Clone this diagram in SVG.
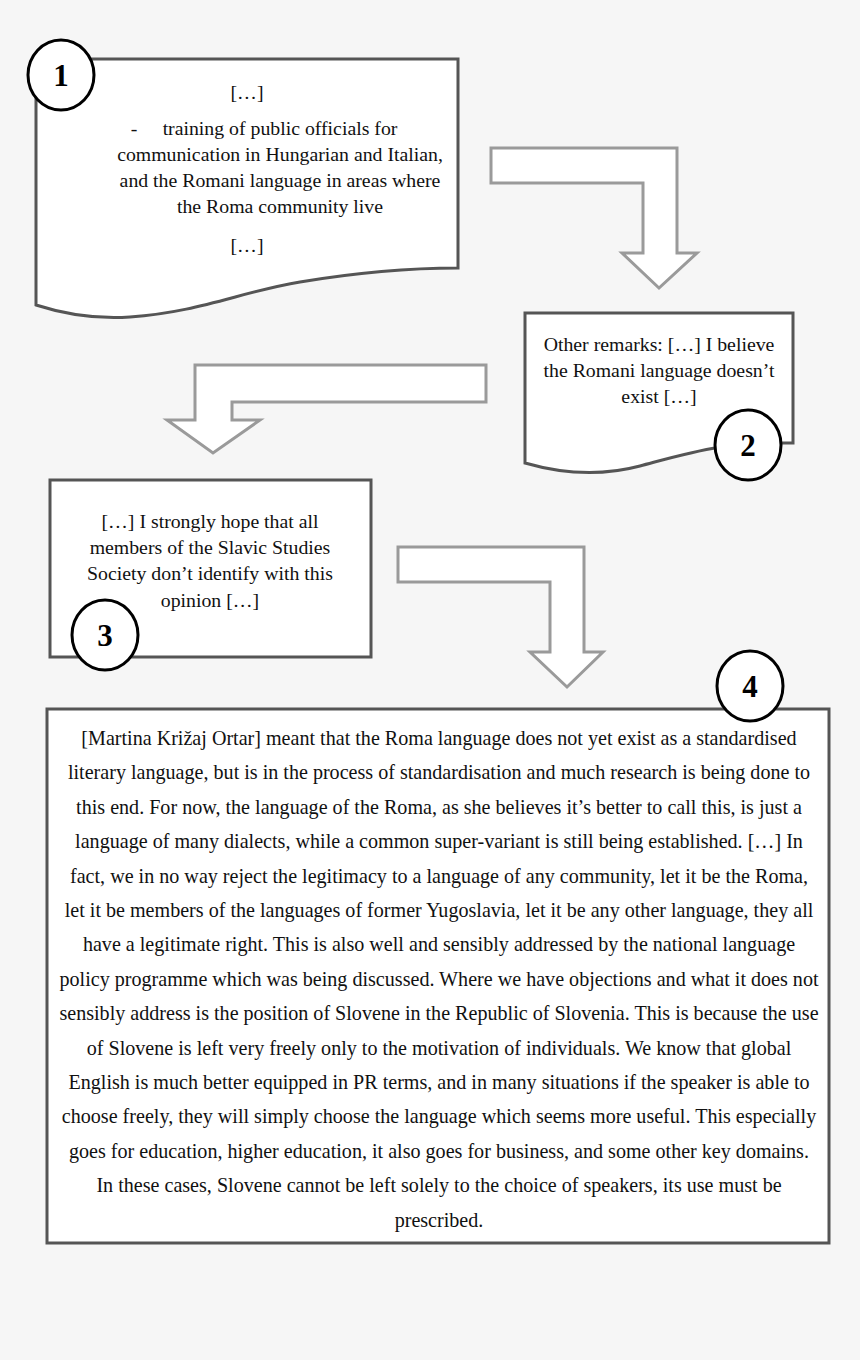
<svg xmlns="http://www.w3.org/2000/svg" width="860" height="1360" viewBox="0 0 860 1360">
<style>
.bg{fill:#f6f6f6}
.box{fill:#ffffff;stroke:#555555;stroke-width:3;stroke-linejoin:miter}
.arrow{fill:#ffffff;stroke:#9a9a9a;stroke-width:3;stroke-linejoin:miter}
.badge{fill:#ffffff;stroke:#000000;stroke-width:3}
.num{font-family:"Liberation Serif","Times New Roman",serif;font-weight:bold;font-size:31px;fill:#000;text-anchor:middle}
.t{font-family:"Liberation Serif","Times New Roman",serif;font-size:19.8px;fill:#111;text-anchor:middle}
.tb{font-family:"Liberation Serif","Times New Roman",serif;font-size:20.1px;fill:#111;text-anchor:middle}
</style>
<rect class="bg" x="0" y="0" width="860" height="1360"/>

<g id="connectors">
<polygon class="arrow" points="491,148 677,148 677,253 697,253 659,288 622,253 643,253 643,183 491,183"/>
<polygon class="arrow" points="486,365 195,365 195,420 167,420 213,453 260,420 232,420 232,402 486,402"/>
<polygon class="arrow" points="398,547 584,547 584,652 603,652 567,687 530,652 550,652 550,582 398,582"/>
</g>

<g id="node1">
<path class="box" d="M36,59 H458 V268 C410,268 360,272 300,282 C240,292 200,312 130,317 C100,319 70,316 36,305 Z"/>
<text class="t" x="247" y="99">[…]</text>
<text class="t" x="134" y="135">-</text>
<text class="t" x="280" y="135">training of public officials for</text>
<text class="t" x="280" y="161">communication in Hungarian and Italian,</text>
<text class="t" x="280" y="187">and the Romani language in areas where</text>
<text class="t" x="280" y="213">the Roma community live</text>
<text class="t" x="247" y="252">[…]</text>
<ellipse class="badge" cx="61" cy="75" rx="33" ry="35"/>
<text class="num" x="61" y="86">1</text>
</g>

<g id="node2">
<path class="box" d="M525,313 H793 V443 H748 L720,447 C690,452 670,458 640,466 C610,474 570,476 525,463 Z"/>
<text class="t" x="659" y="351">Other remarks: […] I believe</text>
<text class="t" x="659" y="377">the Romani language doesn’t</text>
<text class="t" x="659" y="403">exist […]</text>
<ellipse class="badge" cx="748" cy="445" rx="33" ry="35"/>
<text class="num" x="748" y="456">2</text>
</g>

<g id="node3">
<rect class="box" x="50" y="480" width="321" height="177"/>
<text class="t" x="210" y="528">[…] I strongly hope that all</text>
<text class="t" x="210" y="554">members of the Slavic Studies</text>
<text class="t" x="210" y="580">Society don’t identify with this</text>
<text class="t" x="210" y="607">opinion […]</text>
<ellipse class="badge" cx="105" cy="635" rx="33" ry="35"/>
<text class="num" x="105" y="646">3</text>
</g>

<g id="node4">
<rect class="box" x="47" y="709" width="782" height="534"/>
<ellipse class="badge" cx="750" cy="686" rx="33" ry="35"/>
<text class="num" x="750" y="697">4</text>
<text class="tb" x="439" y="745">[Martina Križaj Ortar] meant that the Roma language does not yet exist as a standardised</text>
<text class="tb" x="439" y="779.4">literary language, but is in the process of standardisation and much research is being done to</text>
<text class="tb" x="439" y="813.8">this end. For now, the language of the Roma, as she believes it’s better to call this, is just a</text>
<text class="tb" x="439" y="848.2">language of many dialects, while a common super-variant is still being established. […] In</text>
<text class="tb" x="439" y="882.6">fact, we in no way reject the legitimacy to a language of any community, let it be the Roma,</text>
<text class="tb" x="439" y="917">let it be members of the languages of former Yugoslavia, let it be any other language, they all</text>
<text class="tb" x="439" y="951.4">have a legitimate right. This is also well and sensibly addressed by the national language</text>
<text class="tb" x="439" y="985.8">policy programme which was being discussed. Where we have objections and what it does not</text>
<text class="tb" x="439" y="1020.2">sensibly address is the position of Slovene in the Republic of Slovenia. This is because the use</text>
<text class="tb" x="439" y="1054.6">of Slovene is left very freely only to the motivation of individuals. We know that global</text>
<text class="tb" x="439" y="1089">English is much better equipped in PR terms, and in many situations if the speaker is able to</text>
<text class="tb" x="439" y="1123.4">choose freely, they will simply choose the language which seems more useful. This especially</text>
<text class="tb" x="439" y="1157.8">goes for education, higher education, it also goes for business, and some other key domains.</text>
<text class="tb" x="439" y="1192.2">In these cases, Slovene cannot be left solely to the choice of speakers, its use must be</text>
<text class="tb" x="439" y="1226.6">prescribed.</text>
</g>
</svg>
